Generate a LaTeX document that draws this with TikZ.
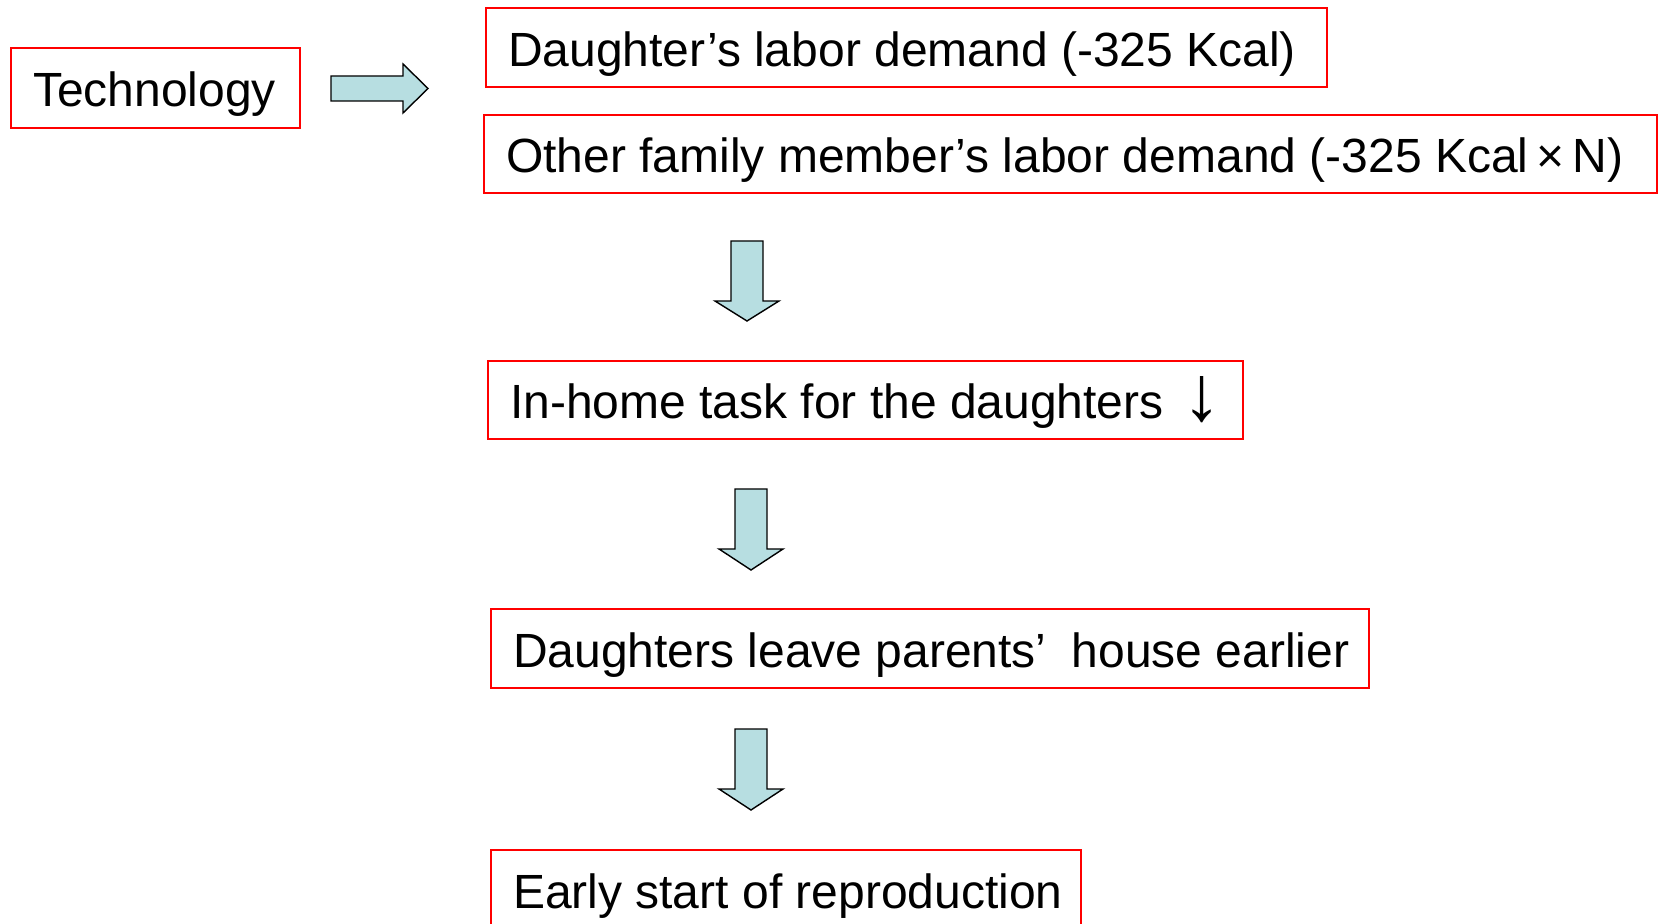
\documentclass[tikz,border=0pt]{standalone}
\usepackage{fontspec}
\setmainfont{Liberation Sans}
\definecolor{arrowfill}{RGB}{183,222,225}
\newcommand{\boxtext}[2]{\makebox[#1][l]{#2}}
\begin{document}
\begin{tikzpicture}[x=0.5pt,y=-0.5pt,
  box/.style={draw=red, line width=1pt, inner xsep=11pt, inner ysep=0pt,
    text height=24pt, text depth=5pt,
    font=\fontsize{24pt}{30pt}\selectfont},
  blockarrow/.style={draw=black, line width=0.7pt, fill=arrowfill, line join=miter}]
\useasboundingbox (0,0) rectangle (1660,924);
\node[box, minimum height=40pt] (tech) at (155.5,88) {\boxtext{122.5pt}{Technology}};
\node[box, minimum height=39.5pt] (dld) at (906.5,47.5) {\boxtext{398.5pt}{Daughter’s labor demand (-325 Kcal)}};
\node[box, minimum height=39pt] (old) at (1070.5,154) {\boxtext{564.5pt}{Other family member’s labor demand (-325 Kcal\,×\,N)}};
\node[box, minimum height=39pt] (task) at (865.5,400) {\boxtext{355.5pt}{In-home task for the daughters\hspace{0.4em}\raisebox{-1pt}{\resizebox{!}{22pt}{↓}}}};
\node[box, minimum height=39.5pt] (leave) at (930,648.5) {\boxtext{417pt}{Daughters leave parents’\hspace{0.25em} house earlier}};
\node[box, minimum height=39pt] (early) at (786,889) {\boxtext{273pt}{Early start of reproduction}};
% block arrows
\draw[blockarrow] (331,76) -- (403,76) -- (403,64) -- (428,88.5) -- (403,113) -- (403,101) -- (331,101) -- cycle;
\draw[blockarrow] (731,241) -- (763,241) -- (763,301) -- (779,301) -- (747,321) -- (715,301) -- (731,301) -- cycle;
\draw[blockarrow] (735,489) -- (767,489) -- (767,549) -- (783,549) -- (751,570) -- (719,549) -- (735,549) -- cycle;
\draw[blockarrow] (735,729) -- (767,729) -- (767,789) -- (783,789) -- (751,810) -- (719,789) -- (735,789) -- cycle;
\end{tikzpicture}
\end{document}
